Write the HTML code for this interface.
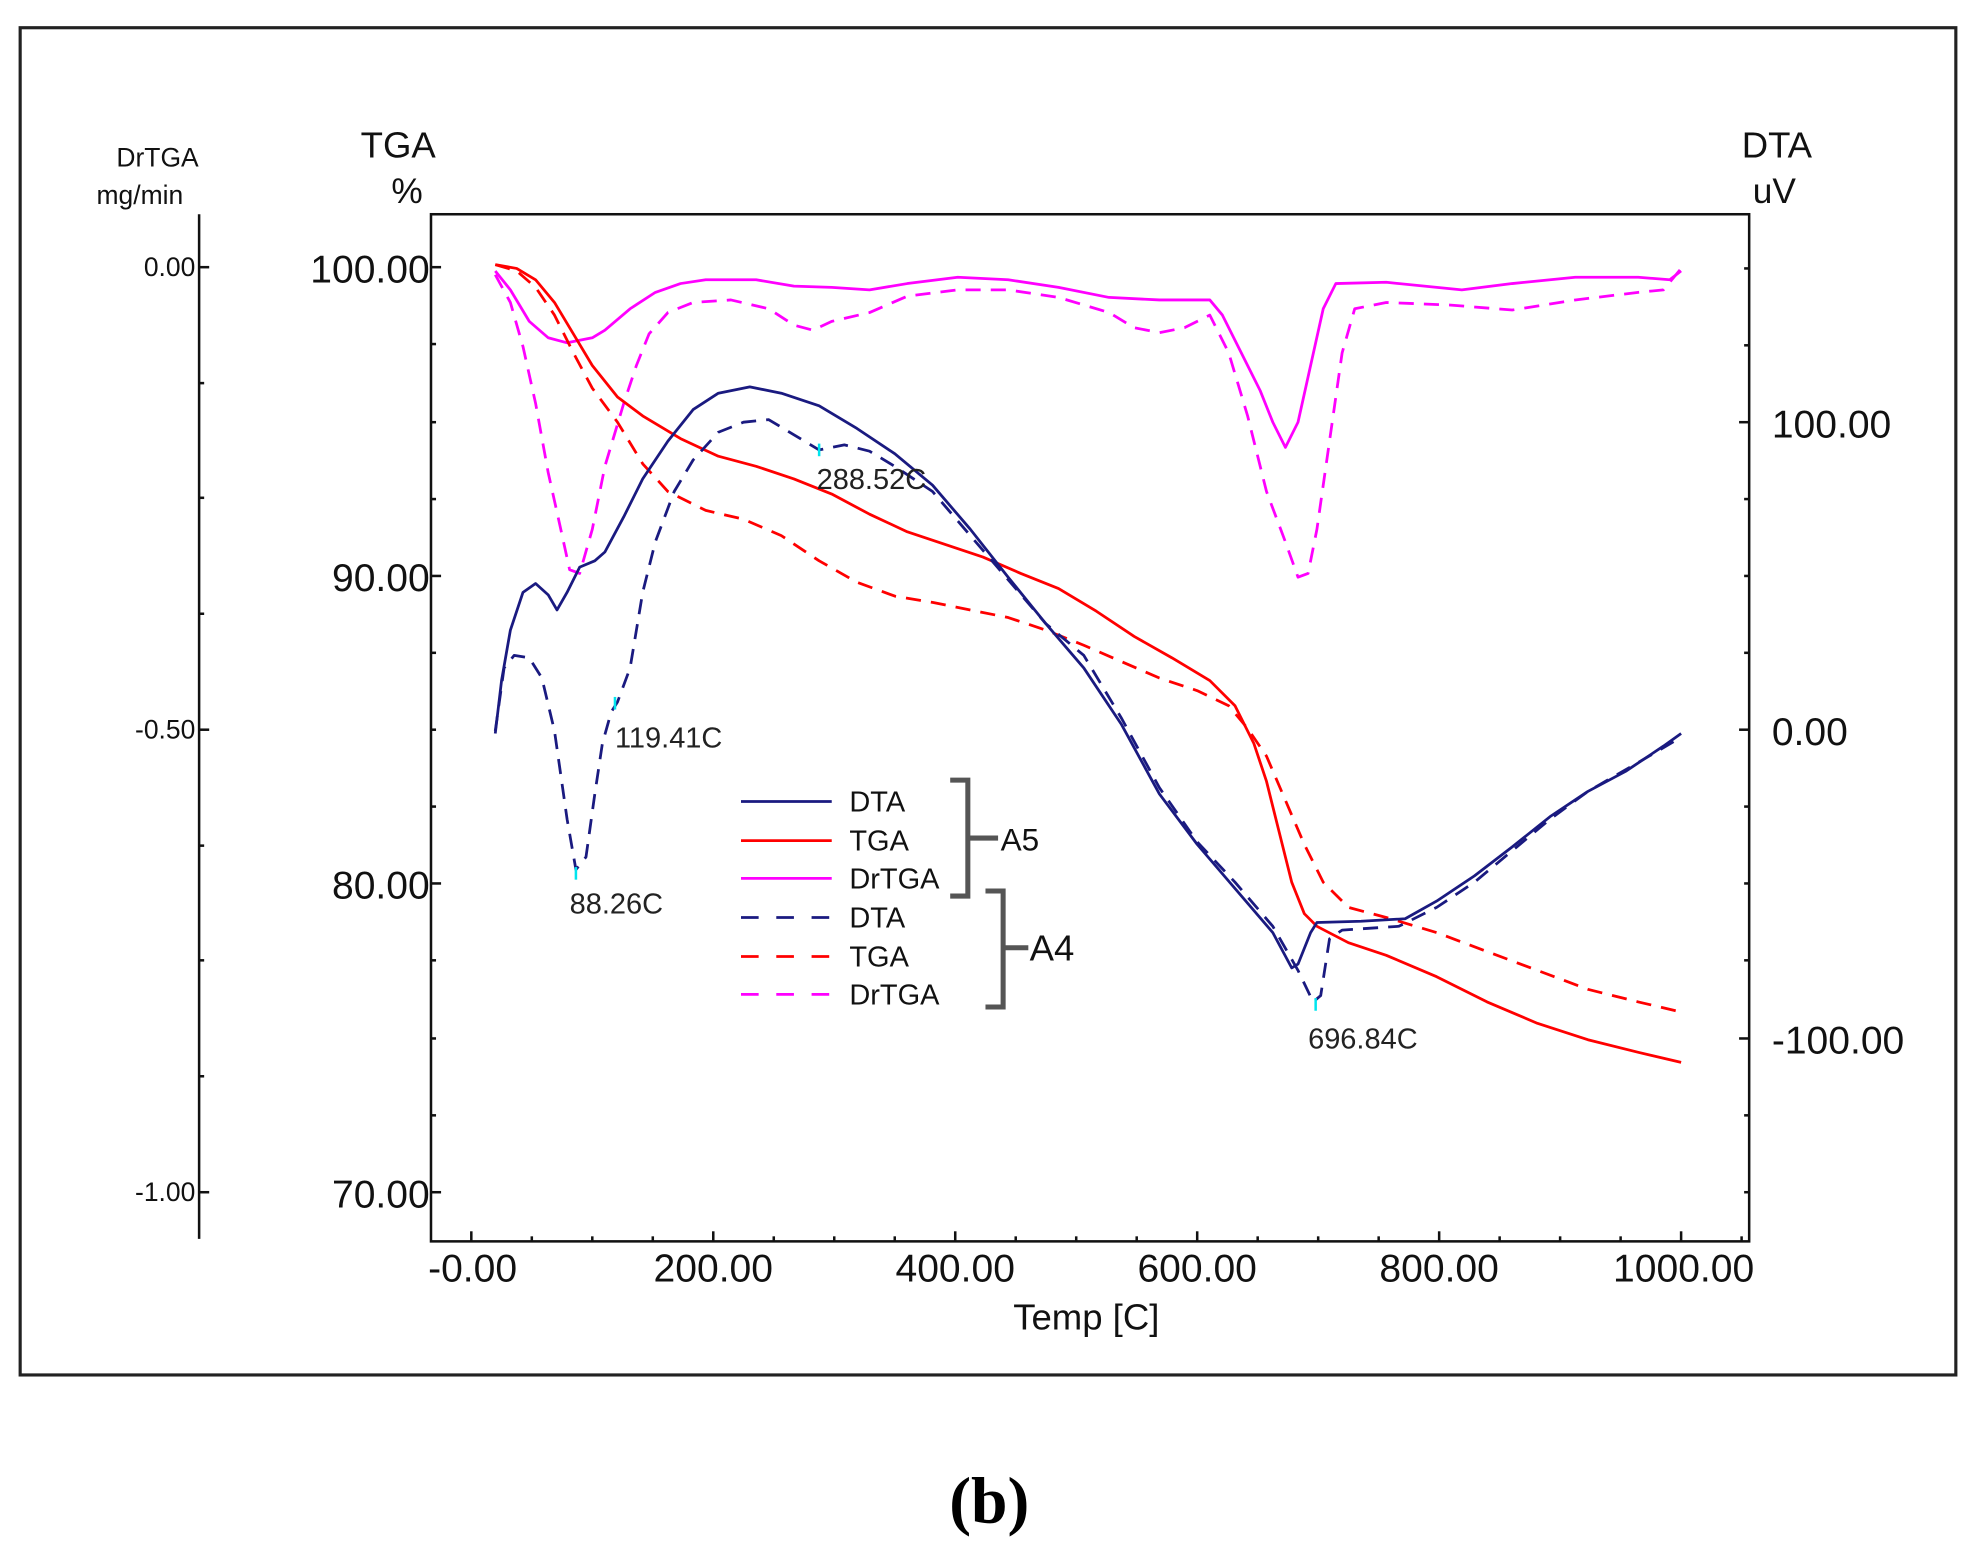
<!DOCTYPE html>
<html><head><meta charset="utf-8"><style>
html,body{margin:0;padding:0;background:#fff;}
svg{display:block;}
text{font-family:"Liberation Sans",sans-serif;}
</style></head><body>
<svg width="1976" height="1564" viewBox="0 0 1568 1241" preserveAspectRatio="none" xmlns="http://www.w3.org/2000/svg">
<defs><clipPath id="cx"><rect x="0" y="985" width="1391" height="60"/></clipPath></defs>
<rect x="16" y="22" width="1536" height="1069" fill="none" stroke="#222" stroke-width="2.5"/>
<rect x="342" y="170" width="1046" height="815" fill="none" stroke="#111" stroke-width="2"/>
<line x1="158" y1="170" x2="158" y2="983" stroke="#111" stroke-width="2"/>
<g stroke="#111" stroke-width="2">
<line x1="158" y1="212" x2="166" y2="212"/><line x1="158" y1="579" x2="166" y2="579"/><line x1="158" y1="946" x2="166" y2="946"/>
<line x1="158" y1="304" x2="162" y2="304"/><line x1="158" y1="395" x2="162" y2="395"/><line x1="158" y1="487" x2="162" y2="487"/>
<line x1="158" y1="671" x2="162" y2="671"/><line x1="158" y1="762" x2="162" y2="762"/><line x1="158" y1="854" x2="162" y2="854"/>
<line x1="342" y1="212" x2="350" y2="212"/><line x1="342" y1="457" x2="350" y2="457"/><line x1="342" y1="701" x2="350" y2="701"/><line x1="342" y1="946" x2="350" y2="946"/>
<line x1="342" y1="273" x2="346" y2="273"/><line x1="342" y1="335" x2="346" y2="335"/><line x1="342" y1="396" x2="346" y2="396"/>
<line x1="342" y1="518" x2="346" y2="518"/><line x1="342" y1="579" x2="346" y2="579"/><line x1="342" y1="640" x2="346" y2="640"/>
<line x1="342" y1="762" x2="346" y2="762"/><line x1="342" y1="824" x2="346" y2="824"/><line x1="342" y1="885" x2="346" y2="885"/>
<line x1="1380" y1="335" x2="1388" y2="335"/><line x1="1380" y1="579" x2="1388" y2="579"/><line x1="1380" y1="824" x2="1388" y2="824"/>
<line x1="1384" y1="213" x2="1388" y2="213"/><line x1="1384" y1="274" x2="1388" y2="274"/><line x1="1384" y1="396" x2="1388" y2="396"/><line x1="1384" y1="457" x2="1388" y2="457"/>
<line x1="1384" y1="518" x2="1388" y2="518"/><line x1="1384" y1="640" x2="1388" y2="640"/><line x1="1384" y1="701" x2="1388" y2="701"/><line x1="1384" y1="762" x2="1388" y2="762"/>
<line x1="1384" y1="885" x2="1388" y2="885"/><line x1="1384" y1="946" x2="1388" y2="946"/>
<line x1="374" y1="985" x2="374" y2="977"/><line x1="566" y1="985" x2="566" y2="977"/><line x1="758" y1="985" x2="758" y2="977"/><line x1="950" y1="985" x2="950" y2="977"/><line x1="1142" y1="985" x2="1142" y2="977"/><line x1="1334" y1="985" x2="1334" y2="977"/>
<line x1="422" y1="985" x2="422" y2="981"/><line x1="470" y1="985" x2="470" y2="981"/><line x1="518" y1="985" x2="518" y2="981"/>
<line x1="614" y1="985" x2="614" y2="981"/><line x1="662" y1="985" x2="662" y2="981"/><line x1="710" y1="985" x2="710" y2="981"/>
<line x1="806" y1="985" x2="806" y2="981"/><line x1="854" y1="985" x2="854" y2="981"/><line x1="902" y1="985" x2="902" y2="981"/>
<line x1="998" y1="985" x2="998" y2="981"/><line x1="1046" y1="985" x2="1046" y2="981"/><line x1="1094" y1="985" x2="1094" y2="981"/>
<line x1="1190" y1="985" x2="1190" y2="981"/><line x1="1238" y1="985" x2="1238" y2="981"/><line x1="1286" y1="985" x2="1286" y2="981"/><line x1="1382" y1="985" x2="1382" y2="981"/>
</g>
<g fill="#111">
<text x="125" y="132" font-size="21" text-anchor="middle">DrTGA</text>
<text x="111" y="162" font-size="21" text-anchor="middle">mg/min</text>
<text x="316" y="125" font-size="29" text-anchor="middle">TGA</text>
<text x="323" y="161" font-size="28" text-anchor="middle">%</text>
<text x="1410" y="125" font-size="29" text-anchor="middle">DTA</text>
<text x="1408" y="161" font-size="28" text-anchor="middle">uV</text>
<g font-size="21" text-anchor="end"><text x="155" y="219">0.00</text><text x="155" y="586">-0.50</text><text x="155" y="953">-1.00</text></g>
<g font-size="31" text-anchor="end"><text x="341" y="224">100.00</text><text x="341" y="469">90.00</text><text x="341" y="713">80.00</text><text x="341" y="958">70.00</text></g>
<g font-size="31"><text x="1406" y="347">100.00</text><text x="1406" y="591">0.00</text><text x="1406" y="836">-100.00</text></g>
<g font-size="31" text-anchor="middle"><text x="375" y="1017">-0.00</text><text x="566" y="1017">200.00</text><text x="758" y="1017">400.00</text><text x="950" y="1017">600.00</text><text x="1142" y="1017">800.00</text></g>
<text x="1280" y="1017" font-size="31" clip-path="url(#cx)">1000.00</text>
<text x="862" y="1055" font-size="29" text-anchor="middle">Temp  [C]</text>
</g>
<g fill="none" stroke-width="2.2" stroke-linejoin="round">
<polyline stroke="#ff00ff" points="393,215 405,230 420,255 435,268 450,272 470,268 480,262 500,245 520,232 540,225 560,222 600,222 630,227 660,228 690,230 720,225 760,220 800,222 840,228 880,236 920,238 960,238 970,250 985,280 1000,310 1010,335 1020,355 1030,335 1040,290 1050,245 1060,225 1100,224 1160,230 1200,225 1250,220 1300,220 1325,222 1334,215"/>
<polyline stroke="#ff00ff" stroke-dasharray="12,8" points="393,218 405,240 415,275 425,320 435,375 445,420 452,452 460,455 470,420 480,370 495,320 505,290 515,265 530,248 550,240 580,238 610,245 630,258 645,262 660,255 690,248 720,235 760,230 800,230 840,236 880,248 900,260 920,264 940,260 960,250 975,280 990,330 1005,390 1020,430 1030,458 1038,455 1045,420 1055,350 1065,280 1075,245 1100,240 1150,242 1200,246 1250,238 1300,232 1320,230 1334,213"/>
<polyline stroke="#ff0000" points="393,210 410,213 425,222 440,240 455,265 470,290 490,315 510,330 540,348 570,362 600,370 630,380 660,392 690,408 720,422 750,432 780,442 810,455 840,467 870,485 900,505 930,522 960,540 980,560 995,590 1005,620 1015,660 1025,700 1035,725 1045,735 1070,748 1100,758 1140,775 1180,795 1220,812 1260,825 1300,835 1334,843"/>
<polyline stroke="#ff0000" stroke-dasharray="12,8" points="393,210 410,215 425,228 440,250 455,280 470,308 490,335 510,368 530,390 560,405 590,412 620,425 650,445 680,462 710,473 740,478 770,484 800,490 830,500 860,512 890,525 920,538 950,548 975,560 990,578 1005,600 1020,635 1035,670 1050,700 1070,720 1100,728 1140,740 1180,755 1220,770 1260,785 1300,795 1334,803"/>
<polyline stroke="#1a1a80" points="393,582 398,540 405,500 415,470 425,463 435,472 442,484 450,470 460,450 472,445 480,438 495,410 510,380 530,350 550,325 570,312 595,307 620,312 650,322 680,340 710,360 740,385 770,420 800,458 830,495 860,530 890,575 920,630 950,670 980,705 1010,740 1025,768 1030,765 1040,740 1045,732 1080,731 1115,729 1140,715 1170,695 1200,672 1230,648 1260,628 1290,612 1320,592 1334,582"/>
<polyline stroke="#1a1a80" stroke-dasharray="12,8" points="393,580 400,530 408,520 420,522 430,538 440,580 450,650 457,690 465,680 472,630 478,590 485,565 490,557 500,530 510,470 520,430 535,390 550,365 570,343 590,335 610,333 630,345 650,357 670,353 690,358 710,370 740,390 770,425 800,460 830,495 860,520 890,570 920,625 950,668 980,700 1010,735 1030,770 1042,795 1048,790 1055,745 1065,738 1110,735 1140,720 1170,700 1200,675 1230,650 1260,628 1300,605 1334,585"/>
</g>
<g stroke="#00e5ee" stroke-width="2"><line x1="650" y1="352" x2="650" y2="362"/><line x1="488" y1="553" x2="488" y2="563"/><line x1="457" y1="688" x2="457" y2="698"/><line x1="1044" y1="792" x2="1044" y2="802"/></g>
<g fill="#222" font-size="23">
<text x="648" y="388">288.52C</text>
<text x="488" y="593">119.41C</text>
<text x="452" y="725">88.26C</text>
<text x="1038" y="832">696.84C</text>
</g>
<g stroke-width="2.2">
<line x1="588" y1="636" x2="660" y2="636" stroke="#1a1a80"/>
<line x1="588" y1="667" x2="660" y2="667" stroke="#ff0000"/>
<line x1="588" y1="697" x2="660" y2="697" stroke="#ff00ff"/>
<line x1="588" y1="728" x2="660" y2="728" stroke="#1a1a80" stroke-dasharray="14,14"/>
<line x1="588" y1="759" x2="660" y2="759" stroke="#ff0000" stroke-dasharray="14,14"/>
<line x1="588" y1="789" x2="660" y2="789" stroke="#ff00ff" stroke-dasharray="14,14"/>
</g>
<g fill="#111" font-size="23">
<text x="674" y="644">DTA</text><text x="674" y="675">TGA</text><text x="674" y="705">DrTGA</text>
<text x="674" y="736">DTA</text><text x="674" y="767">TGA</text><text x="674" y="797">DrTGA</text>
<text x="794" y="675" font-size="25">A5</text><text x="817" y="762" font-size="29">A4</text>
</g>
<g fill="none" stroke="#555" stroke-width="4">
<polyline points="754,619 768,619 768,711 754,711"/>
<line x1="768" y1="665" x2="792" y2="665"/>
<polyline points="782,707 796,707 796,799 782,799"/>
<line x1="796" y1="752" x2="816" y2="752"/>
</g>
<text x="785" y="1208" text-anchor="middle" style="font-family:'Liberation Serif',serif;font-size:52px;font-weight:bold">(b)</text>
</svg>
</body></html>
